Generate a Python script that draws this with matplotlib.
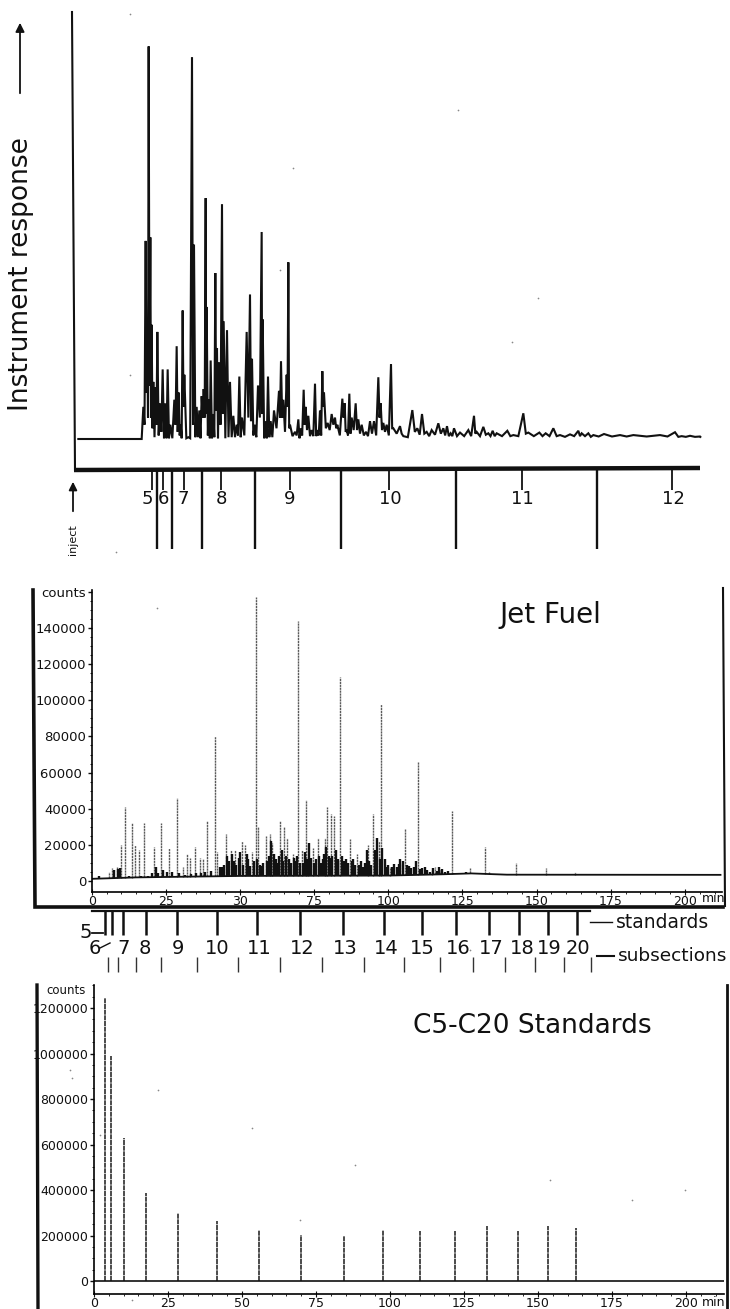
import matplotlib
matplotlib.use("Agg")
import matplotlib.pyplot as plt
import numpy as np

W, H = 730, 1309
INK = "#111111"

# ---- top chromatogram (no scale on the original, arbitrary units)
top_x = [250, 257, 262, 266, 271, 275, 280, 287, 292, 300, 308, 316, 323, 331, 343, 350, 356, 362, 368, 373, 385,
         396, 402, 410, 418, 425, 431, 437, 440, 447, 452, 460, 466, 471, 477, 486, 491, 501, 510, 520, 530, 538,
         546, 560, 570, 576, 584, 594, 605, 608, 617, 624, 632, 642, 657, 663, 670, 680, 685, 690, 705, 715, 722,
         731, 737, 745, 755, 765, 772, 780, 787, 792, 803, 815, 825, 832, 847, 854, 860, 868, 875, 887, 895, 905,
         918, 930, 942, 955, 962, 970, 980, 993, 1000, 1020, 1030, 1057, 1072, 1086, 1100, 1115, 1135, 1150, 1161,
         1172, 1182, 1200, 1225, 1242, 1250, 1270, 1285, 1298, 1310, 1342, 1360, 1390, 1405, 1438, 1457, 1480,
         1500, 1530, 1555, 1565, 1585, 1600, 1632, 1680, 1720, 1800, 1845, 1865, 1890, 1920]
top_y = [90, 555, 280, 1100, 565, 320, 160, 145, 300, 100, 195, 100, 195, 40, 110, 260, 130, 40, 360, 180, 5,
         1070, 545, 90, 80, 120, 140, 675, 370, 110, 220, 70, 465, 255, 215, 658, 330, 305, 160, 65, 40, 175,
         60, 300, 405, 225, 40, 150, 580, 335, 50, 175, 50, 80, 135, 218, 110, 180, 495, 40, 20, 55, 30,
         138, 90, 65, 25, 155, 25, 80, 190, 130, 45, 70, 60, 40, 113, 100, 25, 127, 60, 100, 55, 40,
         20, 50, 50, 173, 100, 45, 40, 210, 30, 36, 8, 81, 30, 70, 20, 25, 44, 30, 36,
         16, 30, 18, 25, 65, 20, 34, 16, 23, 16, 23, 11, 72, 18, 18, 16, 30,
         11, 13, 23, 16, 16, 11, 14, 11, 11, 11, 19, 8, 9, 7]
# trough after each peak
top_valley = [40, 130, 60, 150, 60, 30, 5, 40, 10, 20, 2, 2, 2, 2, 40, 20, 10, 2, 90, 2, 2,
              40, 5, 5, 2, 60, 60, 70, 10, 2, 2, 5, 80, 2, 40, 70, 2, 5, 5, 5, 10, 5,
              10, 60, 50, 10, 5, 60, 70, 2, 2, 5, 5, 30, 60, 60, 20, 90, 30, 8, 10, 2, 10,
              40, 25, 8, 8, 8, 10, 10, 90, 30, 25, 40, 30, 10, 60, 20, 10, 15, 25, 25, 15, 10,
              8, 15, 10, 60, 25, 20, 10, 30, 15, 15, 5, 20, 12, 15, 8, 12, 15, 10, 8,
              8, 8, 8, 8, 15, 8, 12, 8, 8, 8, 8, 8, 15, 8, 8, 8, 8,
              6, 8, 8, 8, 6, 7, 7, 7, 7, 7, 6, 6, 6, 6]
top_std_ticks = [151.7, 162.7, 183.7, 221, 289.7, 389.3, 521.7, 671.7]
top_std_labels = ["5", "6", "7", "8", "9", "10", "11", "12"]
top_std_label_x = [147, 163, 183, 221, 290, 390, 522, 673]
top_sub_ticks = [157, 172.3, 201.7, 255.3, 340.7, 456, 597.3]

# ---- jet fuel, large resolved peaks
jet_t = [6, 6.9, 8.4, 9.9, 11.2, 13.7, 14.6, 15.8, 17.8, 21, 23.4, 26.2, 28.7, 30.8, 32, 33.1, 34.7, 36.5, 37.6, 38.9,
         41.6, 42.4, 45.2, 46.9, 48.3, 50.6, 51.7, 54.2, 55.3, 56.2, 58.7, 60.1, 60.9, 63.6, 65, 66, 67.8, 69.7,
         70.8, 72.2, 73, 74.7, 76.2, 78.7, 79.4, 80.6, 81.7, 83.7, 87, 89.6, 93, 95, 96.9, 97.5, 100.5, 104.5,
         105.7, 109.9, 114.6, 115.7, 117.4, 121.5, 127.5, 132.7, 133.8, 143.2, 153.3, 162.9]
jet_counts = [5000, 7000, 8000, 20000, 41000, 32000, 20000, 17000, 32000, 19000, 32000, 18000, 46000, 8000, 15000,
              13000, 19000, 13000, 12000, 33000, 80000, 16000, 26000, 17000, 17000, 22000, 20000, 16000, 157000,
              30000, 25000, 26000, 21000, 33000, 30000, 24000, 15000, 144000, 17000, 45000, 20000, 18000, 24000,
              24000, 41000, 37000, 36000, 113000, 23000, 15000, 20000, 37000, 22000, 98000, 8000, 10000, 29000,
              66000, 6000, 8000, 6000, 39000, 7000, 19000, 5000, 10000, 7000, 5000]
# the unresolved hump under the big peaks
forest_t = [2.5, 7.5, 8.9, 9.4, 12.5, 16.5, 19, 20.3, 21.6, 22.5, 24.2, 25.3, 27, 29.6, 31.4, 33.6, 35.2, 37, 38.3, 40.2,
            43.1, 43.8, 44.6, 45.6, 46.2, 47.4, 47.9, 48.8, 49.5, 50.1, 51, 52.2, 52.8, 53.4, 54.7, 55.7, 56.8,
            57.3, 57.9, 59.2, 59.8, 60.5, 61.4, 62, 62.6, 63.1, 64.1, 64.6, 65.5, 66.5, 67.1, 68.3, 68.9, 69.3,
            70.2, 71.3, 71.9, 72.7, 73.4, 74, 75.1, 75.7, 76.7, 77.3, 77.9, 78.4, 79, 79.9, 80.2, 81.1, 82.3,
            82.9, 83.2, 84.4, 85, 85.7, 86.3, 87.6, 88.2, 88.9, 90.2, 90.8, 91.5, 92.1, 92.7, 93.6, 94.2, 95.6,
            96.3, 97.1, 98, 98.8, 99.5, 100, 101.2, 102, 102.8, 103.5, 104.1, 105, 106.4, 107.1, 107.8, 108.6,
            109.3, 110.6, 111.5, 112.4, 113.2, 114, 115, 116.3, 117, 118, 119, 120.2, 122.3, 123.5, 125, 126.3]
forest_counts = [2500, 6000, 6500, 7000, 2500, 3000, 3000, 4500, 8000, 4500, 6000, 5000, 5000, 4500, 3500, 3800,
                 4500, 4200, 4800, 5500, 8000, 7500, 9000, 14000, 11000, 15000, 11000, 9000, 13000, 16000, 9000,
                 15000, 12000, 8500, 11000, 12000, 9000, 8500, 10000, 11000, 14000, 22000, 15000, 12000, 10000,
                 14000, 17000, 11000, 14000, 12000, 10000, 13000, 11000, 14000, 10000, 10000, 16000, 12000, 21000,
                 13000, 10000, 12000, 14000, 10000, 12000, 15000, 19000, 14000, 13000, 14000, 17000, 11000, 12000,
                 14000, 11000, 12000, 10000, 11000, 12000, 9000, 9000, 11000, 8000, 10000, 17000, 11000, 9000,
                 17000, 24000, 12000, 18000, 12000, 8000, 9000, 8000, 9500, 8000, 9500, 12000, 11000, 9000, 8500,
                 7000, 8000, 11000, 6500, 7000, 7500, 6000, 5000, 7000, 5500, 7500, 6500, 5000, 5500, 4500, 4500,
                 4500, 5000]
jet_base_t = [0, 15, 50, 100, 118, 128, 140, 212]
jet_base_counts = [1200, 2000, 2800, 3000, 3700, 4200, 3500, 3400]

jet_std_t = [4.4, 6.7, 10.6, 18.3, 28.6, 42.1, 55.9, 70.2, 84.8, 98.4, 111.3, 122.7, 133.9, 144.1, 154, 163.5]
jet_sub_t = [5.6, 8.8, 14.8, 23.4, 35.4, 49.4, 63.5, 77.7, 91.9, 105.4, 117.5, 128.5, 139.4, 149.4, 159.3, 168.3]
carbon_labels = ["6", "7", "8", "9", "10", "11", "12", "13", "14", "15", "16", "17", "18", "19", "20"]
carbon_label_x = [95, 124, 145, 178, 217, 259, 302, 345, 386, 422, 458, 491, 522, 549, 578]

# ---- C5-C20 standards
std_t = [3.6, 5.6, 10.1, 17.6, 28.4, 41.4, 55.8, 70, 84.3, 97.6, 110, 121.9, 132.8, 143.2, 153.4, 162.7]
std_counts = [1245000, 990000, 630000, 385000, 300000, 265000, 225000, 203000, 200000, 222000, 220000, 220000,
              240000, 220000, 240000, 232000]

x_tick_vals = [0, 25, 50, 75, 100, 125, 150, 175, 200]
jet_x_labels = ["0", "25", "30", "75", "100", "125", "150", "175", "200"]
std_x_labels = ["0", "25", "50", "75", "100", "125", "150", "175", "200"]
jet_y_ticks = [0, 20000, 40000, 60000, 80000, 100000, 120000, 140000, 160000]
jet_y_labels = ["0", "20000", "40000", "60000 ", "80000", "100000", "120000", "140000", "counts"]
std_y_ticks = [0, 200000, 400000, 600000, 800000, 1000000, 1200000]

# scanner dirt, page pixels
speck_x = [130, 293, 280, 538, 512, 458, 222, 157, 70, 72, 100, 158, 252, 355, 300, 550, 632, 685, 116, 130, 132, 470]
speck_y = [14, 168, 270, 298, 342, 110, 385, 608, 1070, 1078, 1135, 1090, 1128, 1165, 1220, 1180, 1200, 1190, 552, 375, 1300, 950]


def panel_axes(left, right, top, bottom):
    return fig.add_axes([left / W, 1 - bottom / H, (right - left) / W, (bottom - top) / H])


fig = plt.figure(figsize=(W / 100, H / 100), dpi=100)

# page axes in pixels for the hand drawn frame, arrows and labels
page = fig.add_axes([0, 0, 1, 1])
page.set_xlim(0, W)
page.set_ylim(H, 0)
page.axis("off")

# top panel
ax1 = panel_axes(60, 700, 0, 439)
ax1.set_xlim(0, 1920)
ax1.set_ylim(0, 1230)
ax1.axis("off")
tx = [55, 245]
ty = [0, 0]
for i in range(len(top_x)):
    tx.append(top_x[i])
    ty.append(top_y[i])
    nxt = top_x[i + 1] if i + 1 < len(top_x) else top_x[i] + 2
    tx.append((top_x[i] + nxt) / 2)
    ty.append(top_valley[i])
ax1.plot(tx, ty, color=INK, lw=1.5, solid_joinstyle="miter", clip_on=False)

page.plot([72, 75], [12, 470], color=INK, lw=1.5)
page.plot([74, 700], [470, 468], color=INK, lw=3.2, solid_capstyle="butt")
page.vlines(top_std_ticks, 470, 490, color=INK, lw=1.3)
page.vlines(top_sub_ticks, 470, 549, color=INK, lw=1.7)
for lab, x in zip(top_std_labels, top_std_label_x):
    page.text(x, 499, lab, ha="center", va="center", fontsize=13, color=INK)
page.text(21, 274, "Instrument response", rotation=90, ha="center", va="center", fontsize=19, color=INK)
page.annotate("", xy=(20, 20), xytext=(20, 96), arrowprops=dict(arrowstyle="-|>", color=INK, lw=1.3, mutation_scale=13))
page.annotate("", xy=(73, 479), xytext=(73, 514), arrowprops=dict(arrowstyle="-|>", color=INK, lw=1.3, mutation_scale=12))
page.text(73, 540, "inject", rotation=90, ha="center", va="center", fontsize=8, color=INK)

# jet fuel panel
ax2 = panel_axes(91.7, 722, 590, 892)
ax2.set_xlim(0, (722 - 91.7) / 2.966)
ax2.set_ylim(-(892 - 881) / 0.001807, (881 - 590) / 0.001807)
jet_floor = np.interp(jet_t, jet_base_t, jet_base_counts)
ax2.vlines(jet_t, jet_floor, jet_counts, color="#5a5a5a", lw=1.0, linestyles=(0, (1.6, 0.5)))
forest_floor = np.interp(forest_t, jet_base_t, jet_base_counts)
ax2.vlines(forest_t, forest_floor, forest_counts, color=INK, lw=1.7)
ax2.plot(jet_base_t, jet_base_counts, color=INK, lw=1.3)
ax2.set_xticks(x_tick_vals, jet_x_labels)
ax2.set_yticks(jet_y_ticks, jet_y_labels)
ax2.set_xticks(np.arange(0, 211, 5), minor=True)
ax2.set_yticks(np.arange(0, 160001, 5000), minor=True)
ax2.text((702 - 91.7) / 2.966, -(899 - 881) / 0.001807, "min", ha="left", va="center", fontsize=9, color=INK)

# standards panel
ax3 = panel_axes(94, 724, 985, 1294)
ax3.set_xlim(0, (724 - 94) / 2.96)
ax3.set_ylim(-13 * 4396, 296 * 4396)
ax3.vlines(std_t, 0, std_counts, color="#2c2c2c", lw=1.2, linestyles=(0, (3, 0.4)))
ax3.axhline(0, color=INK, lw=1.2)
ax3.set_xticks(x_tick_vals, std_x_labels)
ax3.set_yticks(std_y_ticks, [str(v) for v in std_y_ticks])
ax3.set_xticks(np.arange(0, 211, 5), minor=True)
ax3.set_yticks(np.arange(0, 1300001, 50000), minor=True)
ax3.text((702 - 94) / 2.96, -(1303 - 1281) * 4396, "min", ha="left", va="center", fontsize=9, color=INK)

for ax, ysize in ((ax2, 9.5), (ax3, 9)):
    ax.patch.set_alpha(0)
    ax.spines["top"].set_visible(False)
    ax.spines["right"].set_visible(False)
    ax.spines["left"].set_linestyle((0, (1.2, 1)))
    ax.spines["left"].set_linewidth(1.2)
    ax.spines["bottom"].set_linewidth(1.2)
    ax.tick_params(axis="x", which="major", direction="inout", length=5, width=0.8, labelsize=9, pad=0, colors=INK)
    ax.tick_params(axis="x", which="minor", direction="out", length=1.5, width=0.6)
    ax.tick_params(axis="y", which="major", direction="out", length=3, width=1, labelsize=ysize, pad=1, colors=INK)
    ax.tick_params(axis="y", which="minor", direction="out", length=1.5, width=0.6)

# frames round the lower panels
page.plot([33, 35, 723], [590, 907, 907], color=INK, lw=2.6, solid_joinstyle="miter")
page.plot([723, 725], [588, 906], color=INK, lw=1.5)
page.plot([92, 590], [911, 911], color=INK, lw=1.6)
page.plot([37, 38], [985, 1309], color=INK, lw=2.4)
page.plot([727, 727], [985, 1309], color=INK, lw=2.0)

# standards and subsections under the jet fuel trace
std_px = [91.7 + 2.966 * t for t in jet_std_t]
sub_px = [91.7 + 2.966 * t for t in jet_sub_t]
page.vlines(std_px, 911, 935, color=INK, lw=1.8)
page.vlines(sub_px, 957, 972, color="#333333", lw=1.0)
for lab, x in zip(carbon_labels, carbon_label_x):
    page.text(x, 949, lab, ha="center", va="center", fontsize=14, color=INK)
page.text(86, 932, "5", ha="center", va="center", fontsize=14, color=INK)
page.plot([92, 103], [933, 933], color=INK, lw=1.3)
page.plot([100, 110], [948, 943], color=INK, lw=1.0)
page.plot([590, 612], [922, 922], color=INK, lw=1.0)
page.plot([597, 614], [956, 956], color=INK, lw=1.5)
page.text(616, 923, "standards", ha="left", va="center", fontsize=13.5, color=INK)
page.text(618, 956, "subsections", ha="left", va="center", fontsize=13.3, color=INK)
page.text(550, 615, "Jet Fuel", ha="center", va="center", fontsize=20, color=INK)
page.text(532, 1026, "C5-C20 Standards", ha="center", va="center", fontsize=19, color=INK)
page.text(66, 990, "counts", ha="center", va="center", fontsize=8.5, color=INK)
page.scatter(speck_x, speck_y, s=1.5, color="#888888", linewidths=0)

fig.savefig("out.png", dpi=100)
